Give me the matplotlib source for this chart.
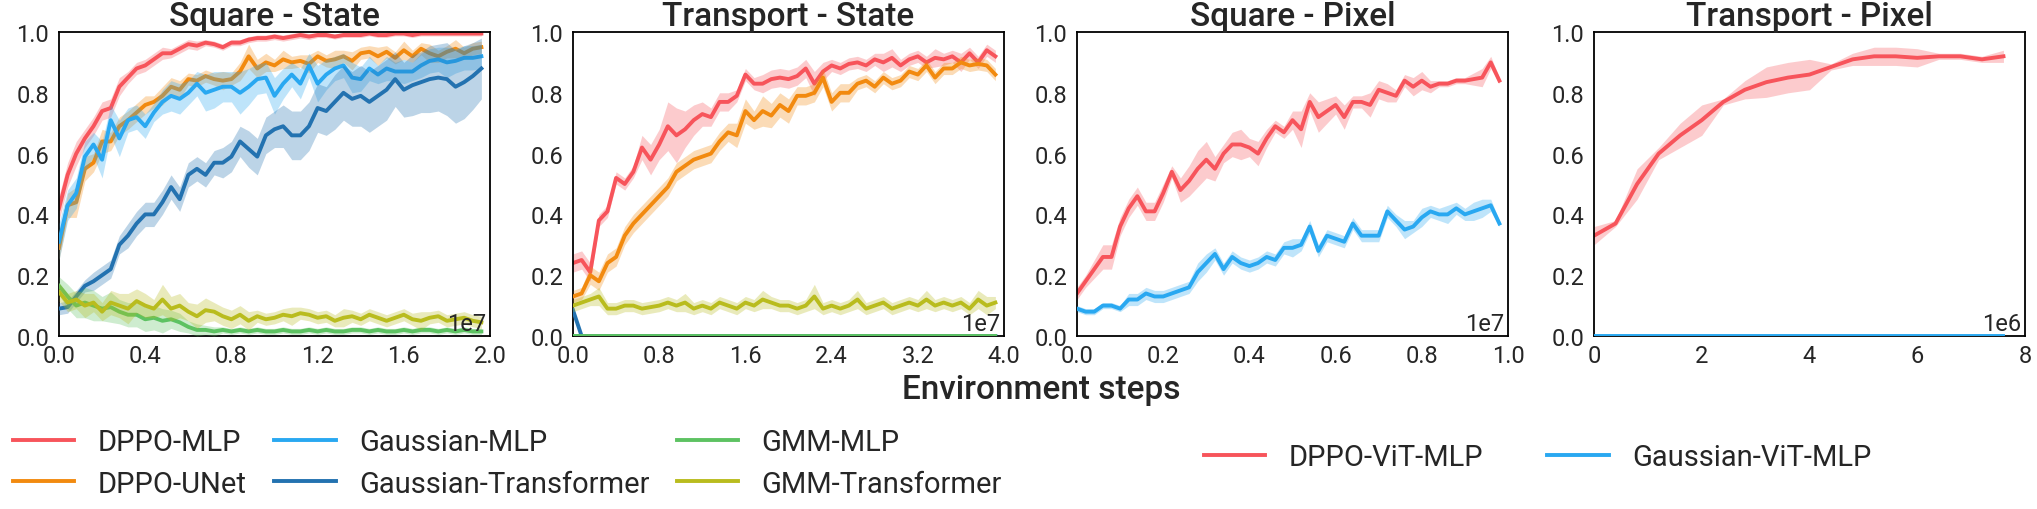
import numpy as np
import matplotlib
matplotlib.use("Agg")
import matplotlib.pyplot as plt
from matplotlib.ticker import ScalarFormatter

plt.rcParams['font.family'] = ['Roboto', 'DejaVu Sans']
TXT = '#262626'

# ---------------- DATA ----------------
methods = ['DPPO-MLP', 'DPPO-UNet', 'Gaussian-MLP', 'Gaussian-Transformer', 'GMM-MLP', 'GMM-Transformer']
pixel_methods = ['DPPO-ViT-MLP', 'Gaussian-ViT-MLP']
titles = ['Square - State', 'Transport - State', 'Square - Pixel', 'Transport - Pixel']
x_steps = [0.04e7, 0.08e7, 0.02e7, 0.4e6]
x_limits = [2e7, 4e7, 1e7, 8e6]
x_tick_step = [0.4e7, 0.8e7, 0.2e7, 2e6]
offset_labels = ['1e7', '1e7', '1e7', '1e6']
y_ticks = [0.0, 0.2, 0.4, 0.6, 0.8, 1.0]

# Square - State
sq_dppo_mlp = [0.42, 0.53, 0.60, 0.65, 0.69, 0.74, 0.75, 0.82, 0.85, 0.88,
               0.89, 0.91, 0.93, 0.93, 0.945, 0.96, 0.955, 0.965, 0.96, 0.95,
               0.965, 0.965, 0.975, 0.98, 0.98, 0.985, 0.98, 0.985, 0.99, 0.985,
               0.99, 0.99, 0.985, 0.99, 0.99, 0.99, 0.995, 0.99, 0.99, 0.995,
               0.995, 0.99, 0.995, 0.995, 0.995, 0.995, 0.995, 0.995, 0.995, 0.995]
sq_dppo_mlp_sd = [0.04, 0.04, 0.04, 0.03, 0.03, 0.03, 0.03, 0.03, 0.02, 0.02,
                  0.02, 0.02, 0.02, 0.015, 0.015, 0.015, 0.015, 0.01, 0.01, 0.01,
                  0.01, 0.01, 0.01, 0.01, 0.01, 0.01, 0.01, 0.01, 0.01, 0.01,
                  0.008, 0.008, 0.008, 0.008, 0.008, 0.008, 0.008, 0.008, 0.008, 0.008,
                  0.008, 0.008, 0.008, 0.008, 0.008, 0.008, 0.008, 0.008, 0.008, 0.008]
sq_dppo_unet = [0.29, 0.43, 0.44, 0.55, 0.57, 0.64, 0.64, 0.69, 0.71, 0.735,
                0.76, 0.77, 0.79, 0.82, 0.81, 0.845, 0.84, 0.855, 0.845, 0.84,
                0.845, 0.87, 0.92, 0.88, 0.90, 0.89, 0.91, 0.90, 0.905, 0.895,
                0.92, 0.905, 0.91, 0.92, 0.905, 0.93, 0.935, 0.92, 0.935, 0.915,
                0.94, 0.92, 0.945, 0.93, 0.92, 0.935, 0.945, 0.93, 0.945, 0.95]
sq_dppo_unet_sd = [0.04, 0.04, 0.05, 0.04, 0.03, 0.04, 0.03, 0.03, 0.03, 0.03,
                   0.03, 0.02, 0.03, 0.03, 0.03, 0.02, 0.02, 0.02, 0.02, 0.03,
                   0.02, 0.03, 0.04, 0.03, 0.03, 0.02, 0.03, 0.02, 0.02, 0.03,
                   0.02, 0.02, 0.03, 0.02, 0.03, 0.02, 0.02, 0.03, 0.02, 0.02,
                   0.03, 0.02, 0.02, 0.03, 0.02, 0.02, 0.03, 0.02, 0.02, 0.02]
sq_gauss_mlp = [0.31, 0.43, 0.47, 0.59, 0.63, 0.58, 0.71, 0.65, 0.71, 0.72,
                0.69, 0.735, 0.77, 0.79, 0.78, 0.80, 0.83, 0.80, 0.81, 0.82,
                0.82, 0.80, 0.82, 0.845, 0.85, 0.79, 0.83, 0.86, 0.83, 0.89,
                0.83, 0.86, 0.88, 0.89, 0.85, 0.845, 0.88, 0.86, 0.88, 0.87,
                0.87, 0.87, 0.89, 0.905, 0.91, 0.90, 0.905, 0.915, 0.915, 0.92]
sq_gauss_mlp_sd = [0.06, 0.05, 0.05, 0.05, 0.04, 0.06, 0.05, 0.06, 0.04, 0.04,
                   0.04, 0.03, 0.04, 0.05, 0.05, 0.04, 0.04, 0.06, 0.06, 0.05,
                   0.05, 0.07, 0.06, 0.05, 0.05, 0.06, 0.05, 0.04, 0.05, 0.04,
                   0.06, 0.05, 0.04, 0.04, 0.05, 0.04, 0.04, 0.03, 0.04, 0.03,
                   0.04, 0.03, 0.04, 0.04, 0.04, 0.05, 0.04, 0.04, 0.04, 0.04]
sq_gauss_tf = [0.09, 0.095, 0.13, 0.165, 0.18, 0.20, 0.22, 0.30, 0.33, 0.37,
               0.40, 0.40, 0.44, 0.49, 0.45, 0.53, 0.55, 0.53, 0.57, 0.57,
               0.59, 0.64, 0.615, 0.59, 0.66, 0.68, 0.69, 0.66, 0.66, 0.69,
               0.75, 0.74, 0.77, 0.80, 0.78, 0.79, 0.77, 0.79, 0.81, 0.845,
               0.81, 0.825, 0.835, 0.845, 0.85, 0.845, 0.82, 0.835, 0.855, 0.88]
sq_gauss_tf_sd = [0.02, 0.02, 0.02, 0.02, 0.03, 0.03, 0.03, 0.03, 0.04, 0.04,
                  0.04, 0.04, 0.04, 0.04, 0.04, 0.04, 0.04, 0.04, 0.04, 0.05,
                  0.05, 0.05, 0.06, 0.06, 0.06, 0.06, 0.07, 0.08, 0.08, 0.08,
                  0.08, 0.08, 0.09, 0.09, 0.09, 0.10, 0.10, 0.10, 0.10, 0.09,
                  0.09, 0.10, 0.10, 0.11, 0.11, 0.12, 0.12, 0.12, 0.11, 0.10]
sq_gmm_mlp = [0.165, 0.13, 0.10, 0.11, 0.10, 0.09, 0.095, 0.08, 0.07, 0.07,
              0.055, 0.06, 0.05, 0.055, 0.045, 0.03, 0.02, 0.02, 0.015, 0.02,
              0.015, 0.02, 0.015, 0.02, 0.015, 0.015, 0.02, 0.015, 0.015, 0.02,
              0.015, 0.02, 0.015, 0.015, 0.02, 0.02, 0.015, 0.02, 0.015, 0.015,
              0.02, 0.015, 0.02, 0.02, 0.015, 0.02, 0.015, 0.02, 0.015, 0.015]
sq_gmm_mlp_sd = [0.03, 0.04, 0.04, 0.05, 0.05, 0.04, 0.05, 0.04, 0.04, 0.04,
                 0.04, 0.04, 0.04, 0.03, 0.03, 0.02, 0.02, 0.015, 0.015, 0.01,
                 0.01, 0.01, 0.01, 0.01, 0.01, 0.01, 0.01, 0.01, 0.01, 0.01,
                 0.01, 0.01, 0.01, 0.01, 0.01, 0.01, 0.01, 0.01, 0.01, 0.01,
                 0.01, 0.01, 0.01, 0.01, 0.01, 0.01, 0.01, 0.01, 0.01, 0.01]
sq_gmm_tf = [0.145, 0.11, 0.12, 0.10, 0.11, 0.08, 0.11, 0.10, 0.09, 0.115,
             0.10, 0.09, 0.12, 0.09, 0.10, 0.08, 0.065, 0.085, 0.08, 0.065,
             0.055, 0.07, 0.05, 0.065, 0.055, 0.06, 0.07, 0.065, 0.075, 0.07,
             0.06, 0.065, 0.05, 0.06, 0.065, 0.055, 0.07, 0.06, 0.05, 0.06,
             0.07, 0.055, 0.05, 0.06, 0.065, 0.05, 0.055, 0.06, 0.05, 0.045]
sq_gmm_tf_sd = [0.03, 0.03, 0.03, 0.04, 0.03, 0.03, 0.04, 0.04, 0.05, 0.04,
                0.04, 0.03, 0.05, 0.04, 0.04, 0.03, 0.04, 0.04, 0.03, 0.03,
                0.03, 0.03, 0.03, 0.02, 0.02, 0.02, 0.02, 0.03, 0.02, 0.02,
                0.02, 0.02, 0.02, 0.03, 0.02, 0.02, 0.02, 0.02, 0.02, 0.02,
                0.02, 0.02, 0.03, 0.02, 0.02, 0.02, 0.02, 0.02, 0.02, 0.02]

# Transport - State
tr_dppo_mlp = [0.24, 0.25, 0.21, 0.38, 0.41, 0.52, 0.50, 0.54, 0.62, 0.58,
               0.63, 0.69, 0.66, 0.68, 0.71, 0.73, 0.72, 0.77, 0.77, 0.79,
               0.86, 0.83, 0.83, 0.845, 0.85, 0.845, 0.855, 0.88, 0.83, 0.87,
               0.89, 0.88, 0.895, 0.90, 0.89, 0.91, 0.90, 0.915, 0.89, 0.91,
               0.92, 0.90, 0.915, 0.91, 0.92, 0.90, 0.93, 0.90, 0.94, 0.92]
tr_dppo_mlp_sd = [0.03, 0.03, 0.03, 0.02, 0.02, 0.02, 0.02, 0.02, 0.04, 0.05,
                  0.05, 0.08, 0.09, 0.06, 0.05, 0.04, 0.03, 0.03, 0.03, 0.02,
                  0.02, 0.02, 0.03, 0.03, 0.03, 0.03, 0.03, 0.03, 0.04, 0.03,
                  0.02, 0.02, 0.02, 0.02, 0.02, 0.02, 0.03, 0.03, 0.02, 0.02,
                  0.02, 0.02, 0.03, 0.02, 0.02, 0.03, 0.02, 0.02, 0.02, 0.02]
tr_dppo_unet = [0.13, 0.14, 0.20, 0.18, 0.24, 0.26, 0.33, 0.37, 0.40, 0.43,
                0.46, 0.49, 0.54, 0.56, 0.58, 0.59, 0.60, 0.64, 0.67, 0.66,
                0.74, 0.71, 0.74, 0.725, 0.76, 0.74, 0.79, 0.79, 0.80, 0.85,
                0.77, 0.80, 0.80, 0.83, 0.84, 0.82, 0.85, 0.83, 0.84, 0.87,
                0.86, 0.89, 0.85, 0.88, 0.88, 0.90, 0.89, 0.895, 0.89, 0.86]
tr_dppo_unet_sd = [0.02, 0.02, 0.03, 0.03, 0.03, 0.03, 0.03, 0.03, 0.03, 0.03,
                   0.03, 0.03, 0.03, 0.03, 0.03, 0.03, 0.03, 0.03, 0.03, 0.04,
                   0.04, 0.03, 0.05, 0.04, 0.04, 0.04, 0.03, 0.03, 0.03, 0.03,
                   0.03, 0.03, 0.03, 0.02, 0.02, 0.02, 0.02, 0.02, 0.02, 0.02,
                   0.02, 0.02, 0.02, 0.02, 0.02, 0.02, 0.02, 0.02, 0.02, 0.02]
tr_gauss_mlp = [0.0, 0.0, 0.0, 0.0, 0.0, 0.0, 0.0, 0.0, 0.0, 0.0,
                0.0, 0.0, 0.0, 0.0, 0.0, 0.0, 0.0, 0.0, 0.0, 0.0,
                0.0, 0.0, 0.0, 0.0, 0.0, 0.0, 0.0, 0.0, 0.0, 0.0,
                0.0, 0.0, 0.0, 0.0, 0.0, 0.0, 0.0, 0.0, 0.0, 0.0,
                0.0, 0.0, 0.0, 0.0, 0.0, 0.0, 0.0, 0.0, 0.0, 0.0]
tr_gauss_tf = [0.085, 0.0, 0.0, 0.0, 0.0, 0.0, 0.0, 0.0, 0.0, 0.0,
               0.0, 0.0, 0.0, 0.0, 0.0, 0.0, 0.0, 0.0, 0.0, 0.0,
               0.0, 0.0, 0.0, 0.0, 0.0, 0.0, 0.0, 0.0, 0.0, 0.0,
               0.0, 0.0, 0.0, 0.0, 0.0, 0.0, 0.0, 0.0, 0.0, 0.0,
               0.0, 0.0, 0.0, 0.0, 0.0, 0.0, 0.0, 0.0, 0.0, 0.0]
tr_gmm_mlp = [0.0, 0.0, 0.0, 0.0, 0.0, 0.0, 0.0, 0.0, 0.0, 0.0,
              0.0, 0.0, 0.0, 0.0, 0.0, 0.0, 0.0, 0.0, 0.0, 0.0,
              0.0, 0.0, 0.0, 0.0, 0.0, 0.0, 0.0, 0.0, 0.0, 0.0,
              0.0, 0.0, 0.0, 0.0, 0.0, 0.0, 0.0, 0.0, 0.0, 0.0,
              0.0, 0.0, 0.0, 0.0, 0.0, 0.0, 0.0, 0.0, 0.0, 0.0]
tr_gmm_tf = [0.10, 0.11, 0.12, 0.13, 0.09, 0.09, 0.10, 0.10, 0.09, 0.095,
             0.10, 0.11, 0.10, 0.11, 0.09, 0.10, 0.09, 0.11, 0.10, 0.09,
             0.11, 0.10, 0.12, 0.11, 0.10, 0.10, 0.09, 0.10, 0.13, 0.09,
             0.10, 0.09, 0.10, 0.12, 0.09, 0.10, 0.11, 0.09, 0.10, 0.11,
             0.10, 0.12, 0.10, 0.11, 0.10, 0.11, 0.09, 0.12, 0.10, 0.11]
tr_gmm_tf_sd = [0.02, 0.02, 0.02, 0.03, 0.02, 0.02, 0.02, 0.02, 0.02, 0.02,
                0.02, 0.02, 0.02, 0.03, 0.02, 0.02, 0.02, 0.02, 0.02, 0.02,
                0.02, 0.02, 0.03, 0.02, 0.02, 0.02, 0.02, 0.02, 0.04, 0.02,
                0.02, 0.02, 0.02, 0.03, 0.02, 0.02, 0.02, 0.02, 0.02, 0.02,
                0.02, 0.03, 0.02, 0.02, 0.02, 0.02, 0.02, 0.03, 0.03, 0.02]

# Square - Pixel
sp_dppo_vit = [0.14, 0.18, 0.22, 0.26, 0.26, 0.36, 0.42, 0.46, 0.41, 0.41,
               0.47, 0.54, 0.48, 0.51, 0.55, 0.58, 0.55, 0.60, 0.63, 0.63,
               0.62, 0.60, 0.65, 0.69, 0.67, 0.71, 0.68, 0.77, 0.72, 0.74,
               0.76, 0.72, 0.77, 0.77, 0.76, 0.81, 0.80, 0.79, 0.84, 0.82,
               0.84, 0.82, 0.83, 0.83, 0.84, 0.84, 0.845, 0.85, 0.90, 0.84]
sp_dppo_vit_sd = [0.02, 0.02, 0.03, 0.04, 0.04, 0.03, 0.03, 0.03, 0.03, 0.03,
                  0.03, 0.02, 0.04, 0.05, 0.06, 0.06, 0.04, 0.03, 0.04, 0.05,
                  0.03, 0.04, 0.03, 0.02, 0.02, 0.03, 0.06, 0.03, 0.05, 0.04,
                  0.03, 0.04, 0.02, 0.02, 0.04, 0.03, 0.03, 0.02, 0.02, 0.03,
                  0.03, 0.02, 0.01, 0.01, 0.01, 0.01, 0.02, 0.03, 0.02, 0.01]
sp_gauss_vit = [0.09, 0.08, 0.08, 0.10, 0.10, 0.09, 0.12, 0.12, 0.14, 0.13,
                0.13, 0.14, 0.15, 0.16, 0.21, 0.24, 0.27, 0.22, 0.26, 0.24,
                0.23, 0.24, 0.26, 0.25, 0.29, 0.29, 0.30, 0.36, 0.28, 0.33,
                0.32, 0.31, 0.37, 0.33, 0.33, 0.33, 0.41, 0.38, 0.35, 0.36,
                0.39, 0.41, 0.40, 0.40, 0.42, 0.40, 0.41, 0.42, 0.43, 0.37]
sp_gauss_vit_sd = [0.01, 0.01, 0.01, 0.01, 0.01, 0.01, 0.02, 0.02, 0.02, 0.02,
                   0.02, 0.02, 0.02, 0.02, 0.03, 0.03, 0.02, 0.02, 0.02, 0.02,
                   0.02, 0.02, 0.02, 0.02, 0.02, 0.03, 0.02, 0.02, 0.02, 0.02,
                   0.02, 0.02, 0.02, 0.02, 0.02, 0.02, 0.02, 0.02, 0.03, 0.02,
                   0.03, 0.02, 0.02, 0.03, 0.02, 0.02, 0.03, 0.03, 0.02, 0.01]

# Transport - Pixel
tp_dppo_vit = [0.33, 0.37, 0.50, 0.60, 0.66, 0.71, 0.77, 0.81, 0.835, 0.85,
               0.86, 0.885, 0.91, 0.92, 0.92, 0.915, 0.92, 0.92, 0.91, 0.92]
tp_dppo_vit_sd = [0.03, 0.01, 0.05, 0.02, 0.04, 0.05, 0.01, 0.03, 0.05, 0.05,
                  0.05, 0.01, 0.02, 0.03, 0.03, 0.03, 0.01, 0.01, 0.01, 0.02]
tp_gauss_vit = [0.0, 0.0, 0.0, 0.0, 0.0, 0.0, 0.0, 0.0, 0.0, 0.0,
                0.0, 0.0, 0.0, 0.0, 0.0, 0.0, 0.0, 0.0, 0.0, 0.0]

colors = {
    'DPPO-MLP': '#F7545B', 'DPPO-UNet': '#F28A0F', 'Gaussian-MLP': '#29A8F1',
    'Gaussian-Transformer': '#2372B0', 'GMM-MLP': '#5DC262', 'GMM-Transformer': '#B9BC1E',
    'DPPO-ViT-MLP': '#F7545B', 'Gaussian-ViT-MLP': '#29A8F1',
}

panels = [
    [('DPPO-MLP', sq_dppo_mlp, sq_dppo_mlp_sd), ('DPPO-UNet', sq_dppo_unet, sq_dppo_unet_sd),
     ('Gaussian-MLP', sq_gauss_mlp, sq_gauss_mlp_sd), ('Gaussian-Transformer', sq_gauss_tf, sq_gauss_tf_sd),
     ('GMM-MLP', sq_gmm_mlp, sq_gmm_mlp_sd), ('GMM-Transformer', sq_gmm_tf, sq_gmm_tf_sd)],
    [('DPPO-MLP', tr_dppo_mlp, tr_dppo_mlp_sd), ('DPPO-UNet', tr_dppo_unet, tr_dppo_unet_sd),
     ('Gaussian-MLP', tr_gauss_mlp, None), ('Gaussian-Transformer', tr_gauss_tf, None),
     ('GMM-MLP', tr_gmm_mlp, None), ('GMM-Transformer', tr_gmm_tf, tr_gmm_tf_sd)],
    [('DPPO-ViT-MLP', sp_dppo_vit, sp_dppo_vit_sd), ('Gaussian-ViT-MLP', sp_gauss_vit, sp_gauss_vit_sd)],
    [('DPPO-ViT-MLP', tp_dppo_vit, tp_dppo_vit_sd), ('Gaussian-ViT-MLP', tp_gauss_vit, None)],
]

# ---------------- FIGURE ----------------
W, H = 2037, 510
fig = plt.figure(figsize=(W / 100, H / 100), dpi=100)
lefts = [59, 573, 1077, 1594]
ax_w, ax_top, ax_bot = 431, 33, 337

axes = []
for i in range(4):
    ax = fig.add_axes([lefts[i] / W, 1 - ax_bot / H, ax_w / W, (ax_bot - ax_top) / H])
    axes.append(ax)
    for z, (name, mean, sd) in enumerate(panels[i]):
        mean = np.asarray(mean)
        x = np.arange(len(mean)) * x_steps[i]
        c = colors[name]
        if sd is not None:
            sd = np.asarray(sd)
            ax.fill_between(x, mean - sd, mean + sd, color=c, alpha=0.3, lw=0, zorder=z * 2 + 1)
        ax.plot(x, mean, color=c, lw=2.8, label=name, zorder=z * 2 + 2)
    ax.set_xlim(0, x_limits[i])
    ax.set_ylim(0, 1)
    ax.set_xticks(np.arange(0, x_limits[i] + 1, x_tick_step[i]))
    ax.set_yticks(y_ticks)
    fmt = ScalarFormatter()
    fmt.set_powerlimits((0, 0))
    ax.xaxis.set_major_formatter(fmt)
    ax.xaxis.get_offset_text().set_visible(False)
    ax.tick_params(axis='both', length=0, labelsize=17, labelcolor=TXT)
    ax.tick_params(axis='y', pad=7)
    ax.tick_params(axis='x', pad=6)
    for s in ax.spines.values():
        s.set_color('black')
        s.set_linewidth(1.3)
    ax.set_title(titles[i], fontsize=24, fontweight='medium', color=TXT, pad=4)
    ax.text(0.992, 0.004, offset_labels[i], transform=ax.transAxes, ha='right', va='bottom',
            fontsize=17, color=TXT, zorder=20)

fig.text(0.511, 1 - 390 / H, 'Environment steps', ha='center', va='center',
         fontsize=24, fontweight='medium', color=TXT)

h1, l1 = axes[0].get_legend_handles_labels()
fig.legend(h1, l1, loc='center left', bbox_to_anchor=(13 / W, 1 - 464 / H), ncol=3,
           frameon=False, fontsize=21, handlelength=2.1, handletextpad=0.8,
           columnspacing=0.95, labelspacing=0.45, borderpad=0, borderaxespad=0,
           labelcolor=TXT)
h3, l3 = axes[2].get_legend_handles_labels()
fig.legend(h3, l3, loc='center left', bbox_to_anchor=(1204 / W, 1 - 458 / H), ncol=2,
           frameon=False, fontsize=21, handlelength=2.1, handletextpad=0.8,
           columnspacing=2.2, borderpad=0, borderaxespad=0, labelcolor=TXT)

fig.savefig('out.png', dpi=100)
